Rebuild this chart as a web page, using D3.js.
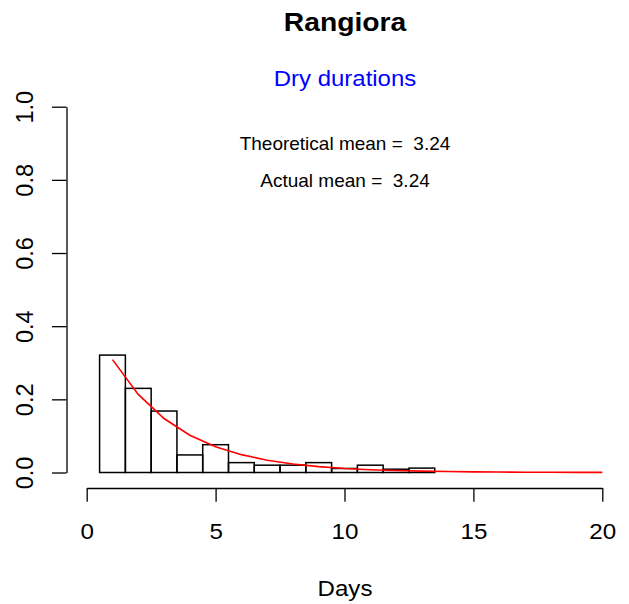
<!DOCTYPE html>
<html>
<head>
<meta charset="utf-8">
<script src="https://cdn.jsdelivr.net/npm/d3@7"></script>
<style>
  html, body { margin: 0; padding: 0; background: #fff; }
  svg { display: block; }
  text { font-family: "Liberation Sans", Arial, Helvetica, sans-serif; }
</style>
</head>
<body>
<svg id="chart" width="629" height="604"></svg>
<script>
// ---- data ----
const titleText = "Rangiora";
const subtitleText = "Dry durations";
const xLabel = "Days";
const theoreticalMean = "3.24";
const actualMean = "3.24";

// histogram bins (centre in days) and observed proportions
const binDays = [1,2,3,4,5,6,7,8,9,10,11,12,13,14,15,16,17,18,19,20,21];
const binProps = [0.321,0.230,0.168,0.048,0.076,0.027,0.020,0.020,0.027,0.011,0.020,0.009,0.012,0,0,0,0,0,0,0,0];

// theoretical (geometric) probabilities
const curveDays = [1,2,3,4,5,6,7,8,9,10,11,12,13,14,15,16,17,18,19,20];
const curveProps = [0.3086,0.2134,0.1475,0.1020,0.0705,0.0488,0.0337,0.0233,0.0161,0.0111,0.0077,0.0053,0.0037,0.0026,0.0018,0.0012,0.0008,0.0006,0.0004,0.0003];

const xTicks = [0,5,10,15,20];
const yTicks = [0,0.2,0.4,0.6,0.8,1.0];

// ---- layout ----
const svg = d3.select("#chart");
const x = d3.scaleLinear().domain([0,20]).range([86.7,602.3]);
const y = d3.scaleLinear().domain([0,1]).range([472.5,106.7]);
const plotLeft = 66, plotRight = 623, plotTop = 91, plotBottom = 488;

svg.append("defs").append("clipPath").attr("id","plotclip")
  .append("rect").attr("x",plotLeft).attr("y",plotTop)
  .attr("width",plotRight-plotLeft).attr("height",plotBottom-plotTop+2);

const plot = svg.append("g").attr("clip-path","url(#plotclip)");

// bars
plot.selectAll("rect.bar").data(binDays.map((d,i)=>({d, p: binProps[i]})))
  .enter().append("rect").attr("class","bar")
  .attr("x", d => x(d.d - 0.5))
  .attr("width", d => x(d.d + 0.5) - x(d.d - 0.5))
  .attr("y", d => y(d.p))
  .attr("height", d => y(0) - y(d.p))
  .attr("fill","none").attr("stroke","#000").attr("stroke-width",1.5);

// theoretical curve
const line = d3.line().x(d => x(d[0])).y(d => y(d[1]));
plot.append("path").datum(curveDays.map((d,i)=>[d, curveProps[i]]))
  .attr("d", line).attr("fill","none").attr("stroke","#ff0000").attr("stroke-width",1.6);

// x axis
const xAxis = svg.append("g").attr("transform","translate(0,488)")
  .call(d3.axisBottom(x).tickValues(xTicks).tickSize(13.7).tickSizeOuter(0).tickFormat(d3.format("d")));
xAxis.select(".domain").attr("stroke","#000").attr("stroke-width",1.3);
xAxis.selectAll(".tick line").attr("stroke","#000").attr("stroke-width",1.3);
xAxis.selectAll(".tick text")
  .attr("y", 0).attr("dy", null)
  .attr("transform","translate(0,51.3) scale(1.1,1)")
  .attr("font-size",22).attr("fill","#000")
  .attr("font-family",'"Liberation Sans", Arial, sans-serif');

// y axis
const yAxis = svg.append("g").attr("transform","translate(66.5,0)")
  .call(d3.axisLeft(y).tickValues(yTicks).tickSize(14.5).tickSizeOuter(0).tickFormat(d3.format(".1f")));
yAxis.select(".domain").attr("stroke","#000").attr("stroke-width",1.3);
yAxis.selectAll(".tick line").attr("stroke","#000").attr("stroke-width",1.3);
yAxis.selectAll(".tick text")
  .attr("x", 0).attr("dy", null).attr("y", 0)
  .attr("text-anchor","middle")
  .attr("transform","translate(-33.5,0) rotate(-90)")
  .attr("font-size",23.5).attr("fill","#000")
  .attr("font-family",'"Liberation Sans", Arial, sans-serif');

// texts
const cx = 345;
function addText(t, px, py, size, opts) {
  const el = svg.append("text")
    .attr("transform", `translate(${px},${py}) scale(${opts.sx||1},1)`)
    .attr("text-anchor","middle")
    .attr("font-size", size)
    .attr("fill", opts.fill || "#000")
    .style("white-space","pre")
    .text(t);
  if (opts.bold) el.attr("font-weight","bold");
  return el;
}
addText(titleText, cx, 30.7, 25, {bold:true, sx:1.13});
addText(subtitleText, cx, 86, 22, {fill:"#0000ff", sx:1.09});
addText("Theoretical mean =  " + theoreticalMean, cx, 150, 19, {sx:1.0});
addText("Actual mean =  " + actualMean, cx, 186.7, 19, {sx:1.0});
addText(xLabel, cx, 596, 21.5, {sx:1.12});
</script>
</body>
</html>
